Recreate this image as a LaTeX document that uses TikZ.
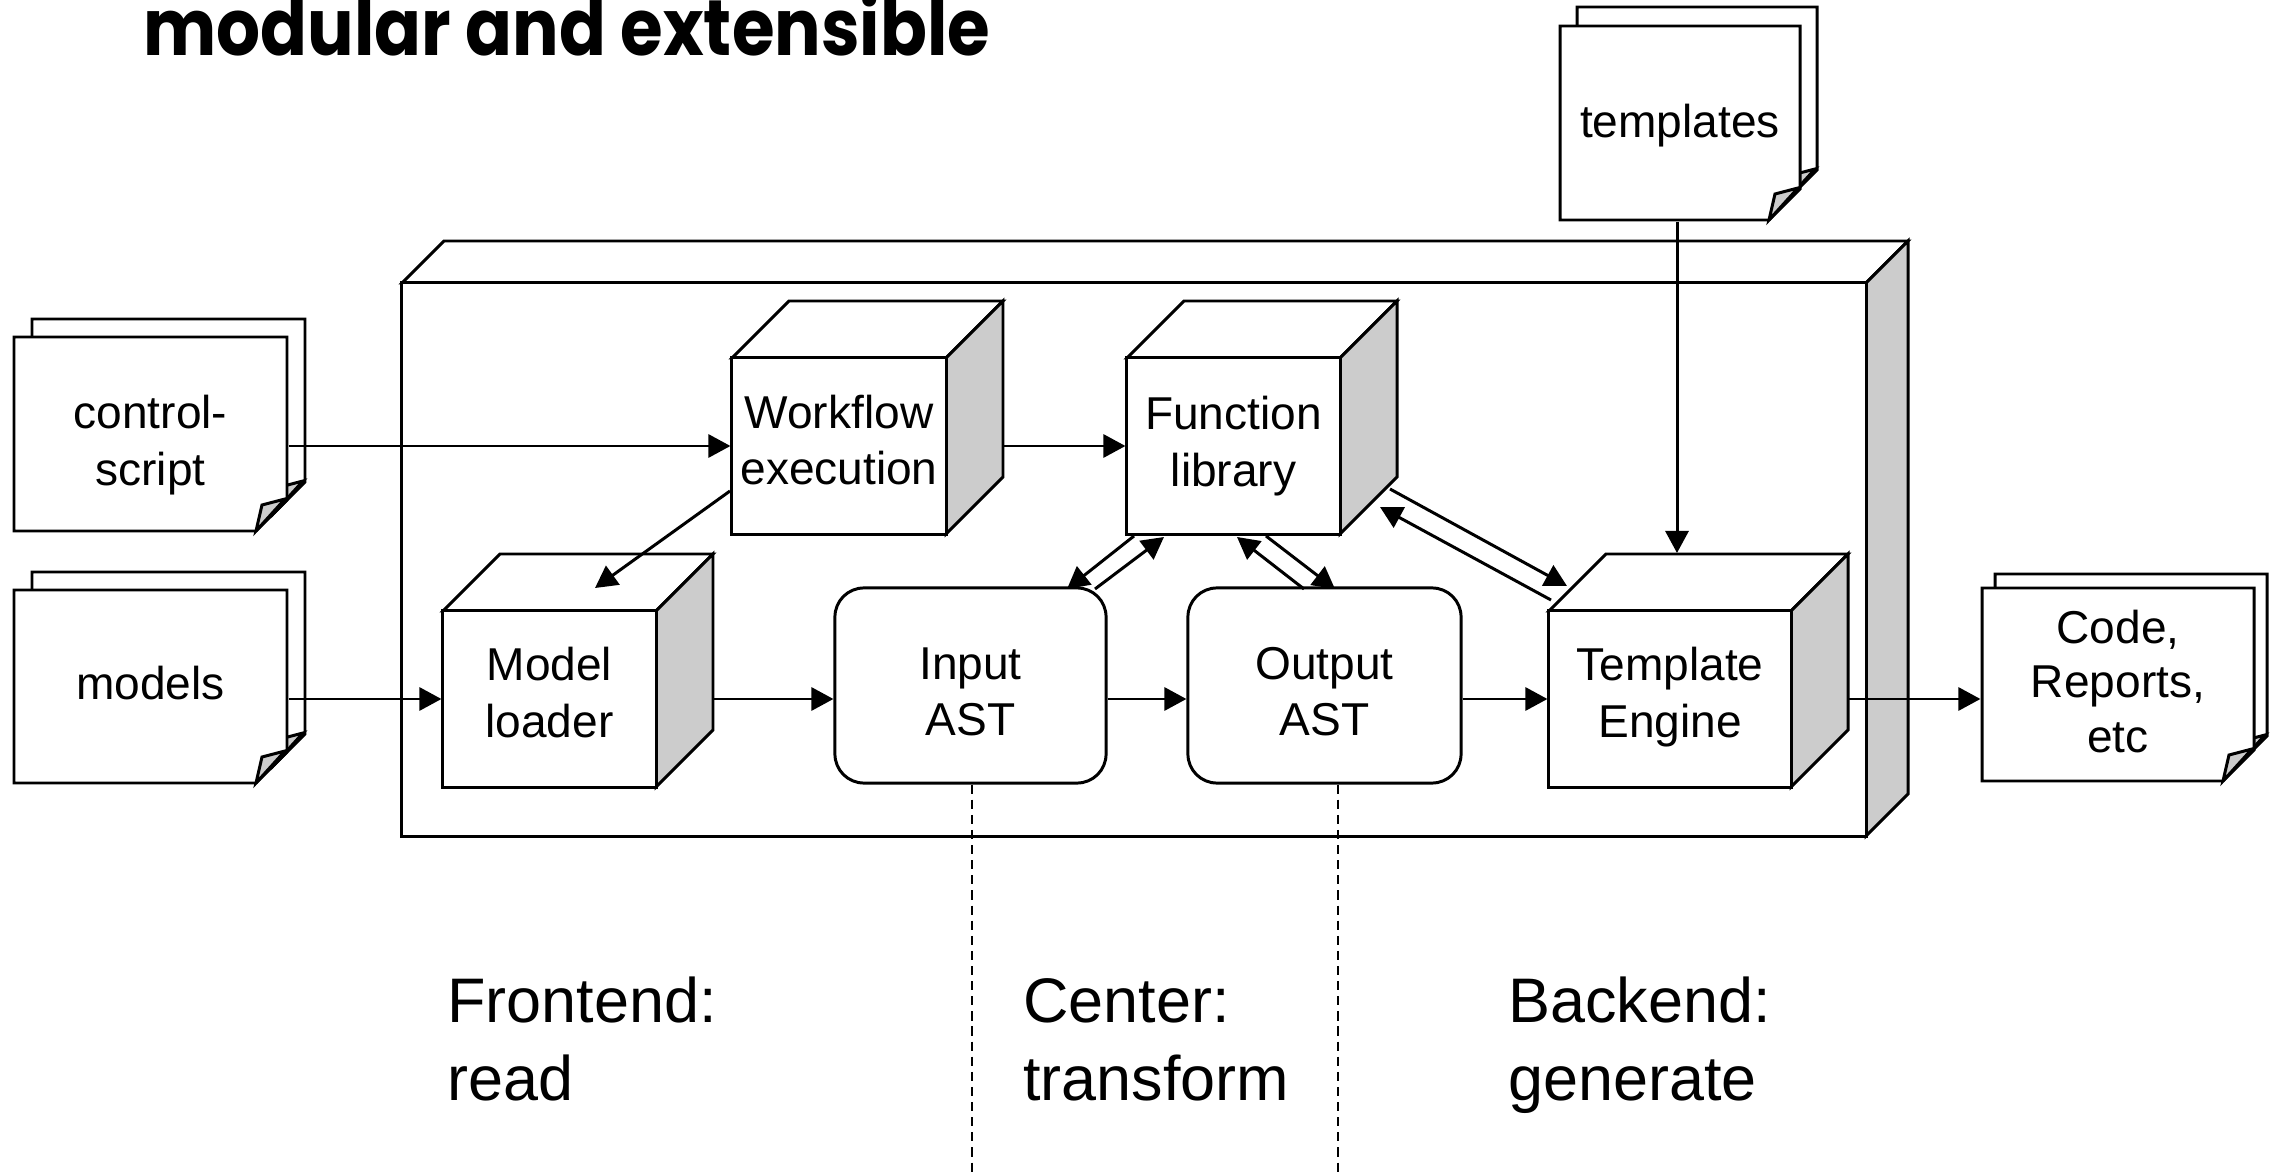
\documentclass[tikz,border=0pt]{standalone}
\usepackage{graphicx}
\usepackage{fontspec}
\setmainfont{Liberation Sans}
\newfontfamily\titlefont{Poppins}
\usetikzlibrary{arrows.meta}
\definecolor{sidegray}{HTML}{CCCCCC}
\definecolor{flapgray}{HTML}{CCCCCC}

% top face + side face of a small cube (front face given by x0,y0,x1,y1; depth 57)
\newcommand\cubeback[4]{%
  \filldraw[fill=white] (#1,#2) -- ({#1+57},{#2-57}) -- ({#3+57},{#2-57}) -- (#3,#2) -- cycle;
  \filldraw[fill=sidegray] (#3,#2) -- ({#3+57},{#2-57}) -- ({#3+57},{#4-57}) -- (#3,#4) -- cycle;}
% one page with a curled corner
\newcommand\docpage[4]{%
  \filldraw[fill=white] (#1,#2) -- (#3,#2) -- (#3,{#4-31}) -- ({#3-31},#4) -- (#1,#4) -- cycle;
  \filldraw[fill=flapgray] ({#3-31},#4) -- ({#3-25},{#4-26}) -- ({#3-2},{#4-32}) -- cycle;}
% two stacked pages
\newcommand\docstack[6]{%
  \begin{scope}[shift={(#5,#6)}]\docpage{#1}{#2}{#3}{#4}\end{scope}
  \docpage{#1}{#2}{#3}{#4}}

\begin{document}
\begin{tikzpicture}[x=0.01cm,y=-0.01cm,line width=0.85pt,line join=miter,
  box/.style={draw,fill=white,inner sep=0pt},
  txt/.style={inner sep=0pt,align=center,font=\fontsize{13.1}{16}\selectfont},
  arr/.style={-{Triangle[length=0.22cm,width=0.23cm]}},
  lbl/.style={anchor=base west,inner sep=0pt,font=\fontsize{17.9}{22.2}\selectfont},
  sep/.style={line width=0.6pt,dash pattern=on 2.6pt off 1.7pt}]
\useasboundingbox (0,0) rectangle (2277,1173);

% title
\node[anchor=base west,inner sep=0pt] (title) at (142,56)
  {\resizebox{8.46cm}{0.63cm}{\titlefont\bfseries modular and extensible}};

% main 3D container
\filldraw[fill=white] (402,283) -- (444,241) -- (1908,241) -- (1866,283) -- cycle;
\filldraw[fill=sidegray] (1866,283) -- (1908,241) -- (1908,794) -- (1866,836) -- cycle;
\node[box,minimum width=14.64cm,minimum height=5.53cm] (main) at (1134,559.5) {};

% cubes
\cubeback{732}{358}{946}{534}
\node[box,minimum width=2.14cm,minimum height=1.76cm] (wf) at (839,446) {};
\node[txt] (wft) at ([yshift=0.06cm]wf.center) {Workflow\\execution};
\cubeback{1127}{358}{1340}{534}
\node[box,minimum width=2.13cm,minimum height=1.76cm] (fl) at (1233.5,446) {};
\node[txt] (flt) at (fl.center) {Function\\library};
\cubeback{443}{611}{656}{787}
\node[box,minimum width=2.13cm,minimum height=1.76cm] (ml) at (549.5,699) {};
\node[txt] (mlt) at ([yshift=0.065cm]ml.center) {Model\\loader};
\cubeback{1549}{611}{1791}{787}
\node[box,minimum width=2.42cm,minimum height=1.76cm] (te) at (1670,699) {};
\node[txt] (tet) at ([yshift=0.02cm]te.center) {Template\\Engine};

% rounded boxes
\node[box,rounded corners=0.29cm,minimum width=2.71cm,minimum height=1.95cm] (ia) at (970.5,685.5) {};
\node[txt] (iat) at ([yshift=-0.065cm]ia.center) {Input\\AST};
\node[box,rounded corners=0.29cm,minimum width=2.73cm,minimum height=1.95cm] (oa) at (1324.5,685.5) {};
\node[txt] (oat) at ([yshift=-0.065cm]oa.center) {Output\\AST};

% documents
\docstack{14}{337}{287}{531}{18}{-18}
\node[minimum width=2.73cm,minimum height=1.94cm,inner sep=0pt] (cs) at (150.5,434) {};
\node[txt] (cst) at ([yshift=-0.11cm]cs.center) {control-\\script};
\docstack{14}{590}{287}{783}{18}{-18}
\node[minimum width=2.73cm,minimum height=1.93cm,inner sep=0pt] (md) at (150.5,686.5) {};
\node[txt] (mdt) at ([yshift=0.03cm]md.center) {models};
\docstack{1560}{26}{1800}{220}{17}{-19}
\node[minimum width=2.40cm,minimum height=1.94cm,inner sep=0pt] (tp) at (1680,123) {};
\node[txt] (tpt) at ([yshift=-0.03cm]tp.center) {templates};
\docstack{1982}{588}{2254}{781}{13}{-14}
\node[minimum width=2.72cm,minimum height=1.93cm,inner sep=0pt] (cd) at (2118,684.5) {};
\node[txt,font=\fontsize{13.1}{15.4}\selectfont] (cdt) at ([yshift=0.03cm]cd.center) {Code,\\Reports,\\etc};

% connectors
\coordinate (wfr) at (1004,446);
\coordinate (wfa) at (730,491);
\coordinate (mltop) at (595,588);
\coordinate (mlr) at (713,699);
\coordinate (ter) at (1849,699);
\coordinate (tetop) at (1677,553);
\draw[arr] (cs.east |- wf.west) -- (wf.west);
\draw[arr] (md.east |- ml.west) -- (ml.west);
\draw[arr] (wfr) -- (fl.west);
\draw[arr] (wfa) -- (mltop);
\draw[arr] (mlr) -- (mlr -| ia.west);
\draw[arr] (ia.east |- mlr) -- (oa.west |- mlr);
\draw[arr] (oa.east |- te.west) -- (te.west);
\draw[arr] (ter) -- (ter -| cd.west);
\draw[arr] (tp.south -| tetop) -- (tetop);

% double arrows around the function library
\coordinate (a1) at (1134,536); \coordinate (a2) at (1067,589);
\coordinate (b1) at (1095,589); \coordinate (b2) at (1164,537);
\coordinate (c1) at (1304,589); \coordinate (c2) at (1237,537);
\coordinate (d1) at (1266,536); \coordinate (d2) at (1335,589);
\coordinate (e1) at (1551,600); \coordinate (e2) at (1380,507);
\coordinate (f1) at (1390,489); \coordinate (f2) at (1567,586);
\draw[arr] (a1) -- (a2);
\draw[arr] (b1) -- (b2);
\draw[arr] (c1) -- (c2);
\draw[arr] (d1) -- (d2);
\draw[arr] (e1) -- (e2);
\draw[arr] (f1) -- (f2);

% phase separators
\coordinate (bot1) at (972,1173);
\coordinate (bot2) at (1338,1173);
\draw[sep] (bot1 |- ia.south) -- (bot1);
\draw[sep] (bot2 |- oa.south) -- (bot2);

% phase labels
\node[lbl] (fe1) at (446,1022) {Frontend:};
\node[lbl] (fe2) at (446,1100) {read};
\node[lbl] (ce1) at (1022,1022) {Center:};
\node[lbl] (ce2) at (1022,1100) {transform};
\node[lbl] (be1) at (1507,1022) {Backend:};
\node[lbl] (be2) at (1507,1100) {generate};
\end{tikzpicture}
\end{document}
